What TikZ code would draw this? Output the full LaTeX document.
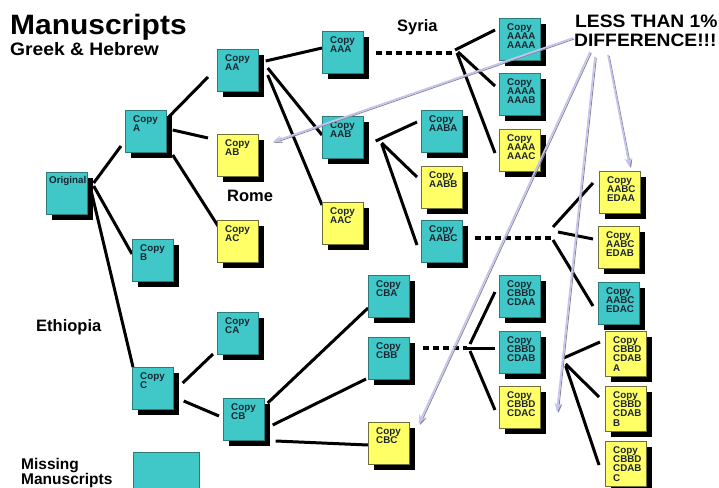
\documentclass[tikz,border=0pt]{standalone}
\usepackage{fontspec}
\setmainfont{Liberation Sans}
\usetikzlibrary{shadows,arrows.meta}
\pgfdeclarelayer{bg}
\pgfsetlayers{bg,main}
\definecolor{boxcyan}{HTML}{40C8C8}
\definecolor{cyanedge}{HTML}{2E7A7A}
\definecolor{boxyellow}{HTML}{FFFF66}
\definecolor{yellowedge}{HTML}{6E6E3A}
\definecolor{lav}{HTML}{C4C4F4}
\definecolor{arrgray}{HTML}{8A8A8A}
\definecolor{lbltext}{HTML}{1A2530}
\tikzset{
 boxbase/.style={rectangle, anchor=north west, minimum width=41pt, minimum height=42pt, inner sep=0pt, line width=0.7pt,
   drop shadow={shadow xshift=6pt, shadow yshift=-6pt, fill=black, opacity=1}},
 cbox/.style={boxbase, fill=boxcyan, draw=cyanedge},
 ybox/.style={boxbase, fill=boxyellow, draw=yellowedge},
 tallbox/.style={minimum height=45pt},
 lbl/.style={anchor=north west, align=left, inner sep=0pt, font=\bfseries\fontsize{9.8}{9.4}\selectfont, text=lbltext},
 link/.style={line width=3pt, black},
 dotlink/.style={line width=4pt, black, dash pattern=on 6pt off 4pt},
 bigtitle/.style={anchor=base west, inner sep=0pt, font=\bfseries\fontsize{28}{30}\selectfont},
 subtitle/.style={anchor=base west, inner sep=0pt, font=\bfseries\fontsize{18}{20}\selectfont},
 place/.style={anchor=base west, inner sep=0pt, font=\bfseries\fontsize{16.5}{18}\selectfont},
 arrlav/.style={line width=1.7pt, lav, -{Stealth[length=9pt,width=7pt]}},
 arrgr/.style={line width=0.9pt, arrgray, -{Stealth[length=9pt,width=6pt]}},
}
\newcommand{\msbox}[5]{%
  \node[#1] (#2) at (#3,#4) {};
  \node[lbl] (#2t) at ([shift={(8,5)}]#2.north west) {#5};}
\newcommand{\difarrow}[2]{%
  \draw[arrgr] ([shift={(1.3,1)}]#1) -- ([shift={(1.3,1)}]#2);
  \draw[arrlav] (#1) -- (#2);}
\begin{document}
\begin{tikzpicture}[x={(1pt,0pt)}, y={(0pt,-1pt)}]
\begin{pgfonlayer}{bg}
\fill[white] (0,0) rectangle (719,487);
\end{pgfonlayer}
\useasboundingbox (0,0) rectangle (719,487);

% ---------- boxes ----------
\node[cbox] (Orig) at (46,172) {};
\node[lbl] (Origt) at ([shift={(3,4)}]Orig.north west) {Original};
\msbox{cbox}{A}{125}{110}{Copy\\A}
\msbox{cbox}{AA}{217}{49}{Copy\\AA}
\msbox{ybox}{AB}{217}{134}{Copy\\AB}
\msbox{ybox}{AC}{217}{220}{Copy\\AC}
\msbox{cbox}{B}{132}{239}{Copy\\B}
\msbox{cbox}{C}{132}{367}{Copy\\C}
\msbox{cbox}{CA}{217}{312}{Copy\\CA}
\msbox{cbox}{CB}{223}{398}{Copy\\CB}
\msbox{cbox}{AAA}{322}{31}{Copy\\AAA}
\msbox{cbox}{AAB}{322}{116}{Copy\\AAB}
\msbox{ybox}{AAC}{322}{202}{Copy\\AAC}
\msbox{cbox}{AABA}{421}{110}{Copy\\AABA}
\msbox{ybox}{AABB}{421}{166}{Copy\\AABB}
\msbox{cbox}{AABC}{421}{220}{Copy\\AABC}
\msbox{cbox}{AAAAa}{499}{18}{Copy\\AAAA\\AAAA}
\msbox{cbox}{AAAAb}{499}{73}{Copy\\AAAA\\AAAB}
\msbox{ybox}{AAAAc}{499}{129}{Copy\\AAAA\\AAAC}
\msbox{ybox}{EDAA}{599}{171}{Copy\\AABC\\EDAA}
\msbox{ybox}{EDAB}{598}{226}{Copy\\AABC\\EDAB}
\msbox{cbox}{EDAC}{598}{282}{Copy\\AABC\\EDAC}
\msbox{cbox}{CBA}{368}{275}{Copy\\CBA}
\msbox{cbox}{CBB}{368}{337}{Copy\\CBB}
\msbox{ybox}{CBC}{368}{422}{Copy\\CBC}
\msbox{cbox}{CDAA}{499}{275}{Copy\\CBBD\\CDAA}
\msbox{cbox}{CDAB}{499}{331}{Copy\\CBBD\\CDAB}
\msbox{ybox}{CDAC}{499}{386}{Copy\\CBBD\\CDAC}
\msbox{ybox,tallbox}{CDABA}{605}{331}{Copy\\CBBD\\CDAB\\A}
\msbox{ybox,tallbox}{CDABB}{605}{386}{Copy\\CBBD\\CDAB\\B}
\msbox{ybox,tallbox}{CDABC}{605}{441}{Copy\\CBBD\\CDAB\\C}
\node[rectangle, anchor=north west, fill=boxcyan, draw=cyanedge, line width=0.7pt, minimum width=66pt, minimum height=45pt, inner sep=0pt] (miss) at (133,452) {};

% ---------- connectors (behind boxes) ----------
\begin{pgfonlayer}{bg}
\draw[link] ([shift={(6,11)}]Orig.north east) -- ([shift={(-4,36)}]A.north west);
\draw[link] ([shift={(6,14)}]Orig.north east) -- ([shift={(0,15)}]B.north west);
\draw[link] ([shift={(3,17)}]Orig.north east) -- ([shift={(1,0)}]C.north west);
\draw[link] ([shift={(2,7)}]A.north east) -- ([shift={(-9,28)}]AA.north west);
\draw[link] ([shift={(6,20)}]A.north east) -- ([shift={(-9,4)}]AB.north west);
\draw[link] ([shift={(6,45)}]A.north east) -- ([shift={(1,6)}]AC.north west);
\draw[link] ([shift={(7,12)}]AA.north east) -- ([shift={(0,17)}]AAA.north west);
\draw[link] ([shift={(9,19)}]AA.north east) -- ([shift={(0,19)}]AAB.north west);
\draw[link] ([shift={(9,26)}]AA.north east) -- ([shift={(0,3)}]AAC.north west);

\coordinate (F1) at (455,53);
\draw[dotlink] ([shift={(12,22)}]AAA.north east) -- (F1);
\draw[link] ([shift={(0,-3)}]F1) -- ([shift={(-4,12)}]AAAAa.north west);
\draw[link] ([shift={(3,-1)}]F1) -- ([shift={(-4,13)}]AAAAb.north west);
\draw[link] ([shift={(2,0)}]F1) -- ([shift={(-4,24)}]AAAAc.north west);

\coordinate (F2) at ([shift={(12,25)}]AAB.north east);
\draw[link] (F2) -- ([shift={(-4,12)}]AABA.north west);
\draw[link] ([shift={(6,2)}]F2) -- ([shift={(-4,11)}]AABB.north west);
\draw[link] ([shift={(6,3)}]F2) -- ([shift={(-4,25)}]AABC.north west);

\coordinate (F3) at (552,238);
\draw[dotlink] ([shift={(12,18)}]AABC.north east) -- (F3);
\draw[link] ([shift={(1,-11)}]F3) -- ([shift={(-6,12)}]EDAA.north west);
\draw[link] ([shift={(6,-6)}]F3) -- ([shift={(-5,13)}]EDAB.north west);
\draw[link] ([shift={(1,2)}]F3) -- ([shift={(-5,24)}]EDAC.north west);

\draw[link] ([shift={(9,16)}]C.north east) -- ([shift={(-4,42)}]CA.north west);
\draw[link] ([shift={(10,34)}]C.north east) -- ([shift={(-4,18)}]CB.north west);
\draw[link] ([shift={(3,5)}]CB.north east) -- ([shift={(0,33)}]CBA.north west);
\draw[link] ([shift={(8,27)}]CB.north east) -- ([shift={(-2,42)}]CBB.north west);
\draw[link] ([shift={(11,43)}]CB.north east) -- ([shift={(0,23)}]CBC.north west);

\coordinate (F4) at (467,348);
\draw[dotlink] ([shift={(13,11)}]CBB.north east) -- (F4);
\draw[link] ([shift={(3,-4)}]F4) -- ([shift={(-4,17)}]CDAA.north west);
\draw[link] (F4) -- ([shift={(-4,17)}]CDAB.north west);
\draw[link] ([shift={(3,3)}]F4) -- ([shift={(-4,24)}]CDAC.north west);

\coordinate (F5) at ([shift={(23,27)}]CDAB.north east);
\draw[link] (F5) -- ([shift={(-5,11)}]CDABA.north west);
\draw[link] ([shift={(2,6)}]F5) -- ([shift={(-6,11)}]CDABB.north west);
\draw[link] ([shift={(2,8)}]F5) -- ([shift={(-6,24)}]CDABC.north west);
\end{pgfonlayer}

% ---------- texts ----------
\node[bigtitle] (ttl) at (10,35) {\scalebox{1.07}[1]{Manuscripts}};
\node[subtitle] (sub) at (10,56) {\scalebox{1.07}[1]{Greek \& Hebrew}};
\node[place] (syria) at (397,32) {Syria};
\node[place] (rome) at (227,201) {Rome};
\node[place] (eth) at (36,331) {Ethiopia};
\node[place, anchor=north west, align=left, font=\bfseries\fontsize{15.5}{14}\selectfont] (missing) at (21,458) {Missing\\Manuscripts};
\node[subtitle] (less) at (575,28) {\scalebox{1.07}[1]{LESS THAN 1\%}};
\node[subtitle] (dif) at (574,47) {\scalebox{1.07}[1]{DIFFERENCE!!!}};

% ---------- arrows ----------
\coordinate (s1) at ([shift={(-1,-9)}]dif.base west);
\coordinate (s2) at ([shift={(16,5)}]dif.base west);
\coordinate (s3) at ([shift={(21,10)}]dif.base west);
\coordinate (s4) at ([shift={(34,8)}]dif.base west);
\coordinate (e1) at ([shift={(14,8)}]AB.north east);
\coordinate (e2) at ([shift={(9,2)}]CBC.north east);
\coordinate (e3) at (557,412);
\coordinate (e4) at ([shift={(-11,-4)}]EDAA.north east);
\difarrow{s1}{e1}
\difarrow{s2}{e2}
\difarrow{s3}{e3}
\difarrow{s4}{e4}
\end{tikzpicture}
\end{document}
